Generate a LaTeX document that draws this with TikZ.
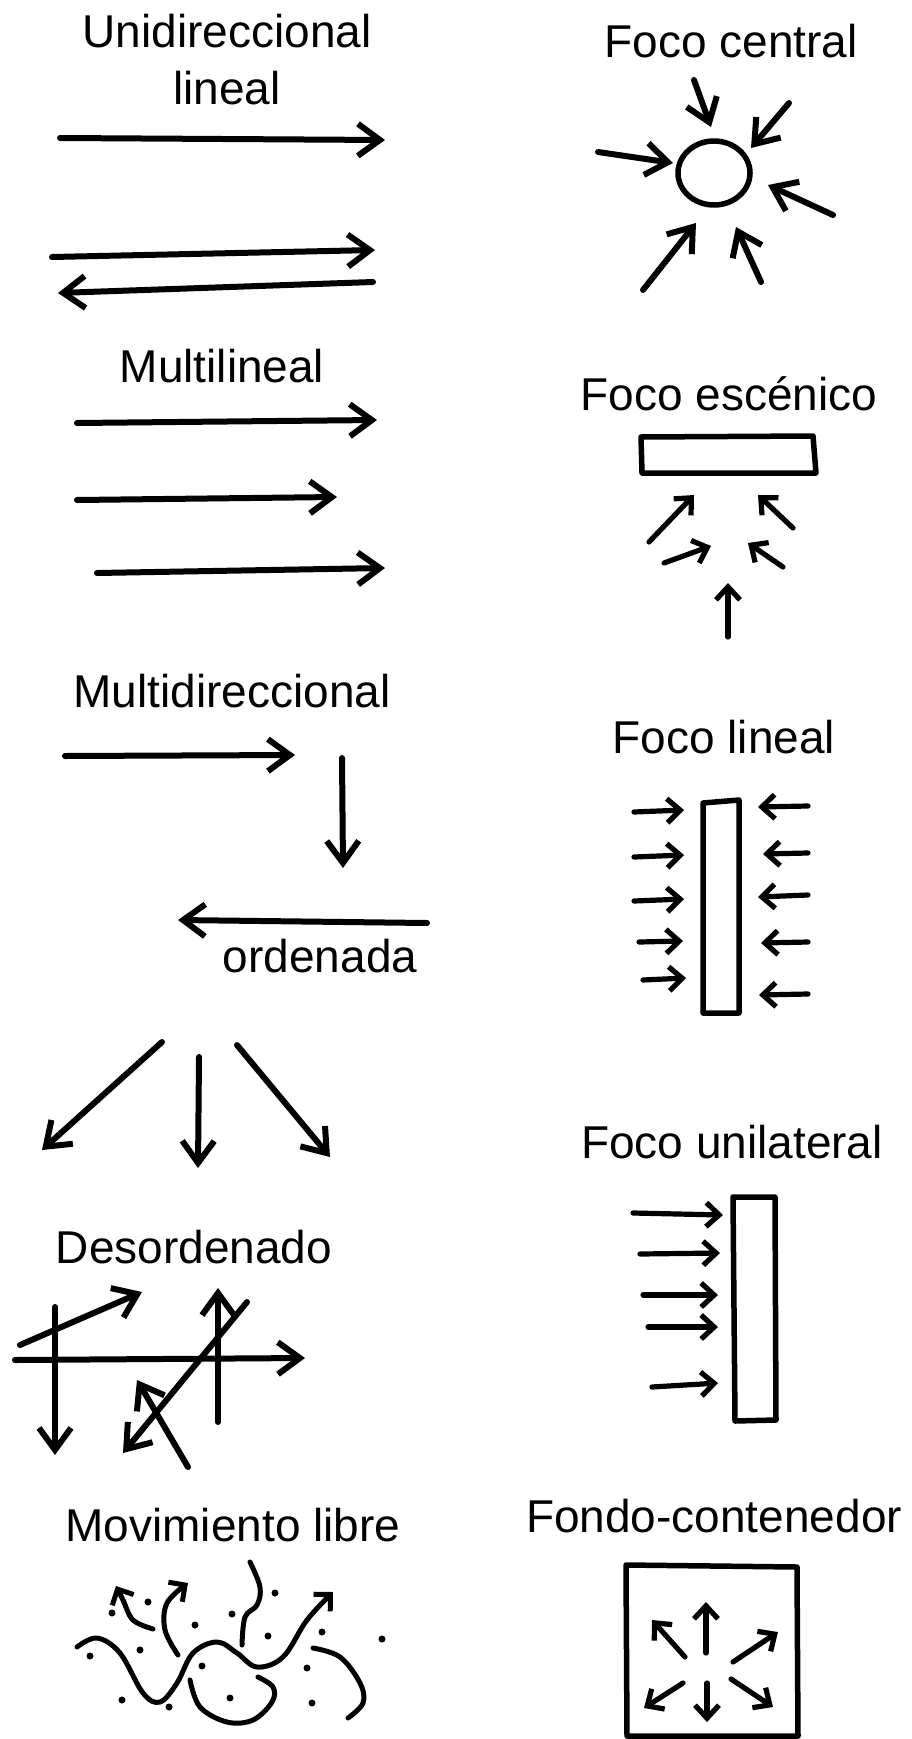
\documentclass[tikz,border=0pt]{standalone}
\usepackage{fontspec}
\setmainfont{Liberation Sans}
\usetikzlibrary{arrows.meta}
\begin{document}
\begin{tikzpicture}[x=1pt,y=-1pt,
  lbl/.style={anchor=base,inner sep=0pt,font=\fontsize{46}{52}\selectfont},
  stroke/.style={line width=6pt,line cap=round,line join=round},
  arr/.style={stroke,-{Straight Barb[length=22pt,width=32pt]}},
  sarr/.style={stroke,line width=5.2pt,-{Straight Barb[length=13pt,width=24pt]}},
  warr/.style={stroke,line width=5pt,-{Straight Barb[length=12pt,width=24pt]}},
  wave/.style={stroke,line width=5pt},
  box/.style={stroke,line width=5.5pt},
  dot/.style={fill=black}
]
\fill[white] (0,0) rectangle (912,1739);
\useasboundingbox (0,0) rectangle (912,1739);

% ---------- labels ----------
\node[lbl] (t1)  at (227,48)   {Unidireccional};
\node[lbl] (t1b) at (227,105)  {lineal};
\node[lbl] (t2)  at (731,58)   {Foco central};
\node[lbl] (t3)  at (222,382)  {Multilineal};
\node[lbl] (t4)  at (729,410)  {Foco escénico};
\node[lbl] (t5)  at (232,707)  {Multidireccional};
\node[lbl] (t6)  at (724,753)  {Foco lineal};
\node[lbl] (t7)  at (320,972)  {ordenada};
\node[lbl] (t8)  at (194,1263) {Desordenado};
\node[lbl] (t9)  at (732,1158) {Foco unilateral};
\node[lbl] (t10) at (233,1541) {Movimiento libre};
\node[lbl] (t11) at (714,1532) {Fondo-contenedor};

% ---------- Unidireccional lineal ----------
\draw[arr] (60,138) -- (385,140);
\draw[arr] (52,257) -- (375,250);
\draw[arr] (373,282) -- (58,293);

% ---------- Foco central ----------
\draw[box] (714,173) ellipse [x radius=36, y radius=32];
\draw[arr] (694,80) -- (711,127);
\draw[arr] (789,103) -- (751,148);
\draw[arr] (598,152) -- (673,163);
\draw[arr] (833,215) -- (768,185);
\draw[arr] (643,290) -- (696,223);
\draw[arr] (761,282) -- (736,227);

% ---------- Multilineal ----------
\draw[arr] (77,423) -- (377,420);
\draw[arr] (77,500) -- (337,497);
\draw[arr] (97,573) -- (385,568);

% ---------- Foco escenico ----------
\draw[box] (641,437) -- (813,436) -- (816,473) -- (642,473) -- cycle;
\draw[sarr] (649,542) -- (694,495);
\draw[sarr] (793,528) -- (758,495);
\draw[sarr] (664,563) -- (711,546);
\draw[sarr] (783,567) -- (748,543);
\draw[sarr] (728,637) -- (728,583);

% ---------- Multidireccional ordenada ----------
\draw[arr] (65,756) -- (295,755);
\draw[arr] (342,758) -- (343,868);
\draw[arr] (427,923) -- (178,920);

% ---------- Foco lineal ----------
\draw[box] (703,803) -- (739,800) -- (739,1013) -- (703,1013) -- cycle;
\draw[sarr] (634,812) -- (684,810);
\draw[sarr] (634,857) -- (684,855);
\draw[sarr] (634,901) -- (684,899);
\draw[sarr] (639,942) -- (683,941);
\draw[sarr] (643,980) -- (686,978);
\draw[sarr] (808,806) -- (758,807);
\draw[sarr] (808,853) -- (763,854);
\draw[sarr] (808,895) -- (758,897);
\draw[sarr] (808,942) -- (761,943);
\draw[sarr] (808,994) -- (759,995);

% ---------- three spreading arrows ----------
\draw[arr] (162,1042) -- (42,1150);
\draw[arr] (199,1057) -- (198,1168);
\draw[arr] (237,1045) -- (330,1157);

% ---------- Desordenado ----------
\draw[arr] (20,1345) -- (142,1292);
\draw[arr] (55,1307) -- (55,1455);
\draw[arr] (15,1360) -- (305,1358);
\draw[arr] (218,1422) -- (218,1288);
\draw[arr] (247,1302) -- (123,1453);
\draw[arr] (188,1467) -- (137,1380);

% ---------- Foco unilateral ----------
\draw[box] (733,1197) -- (775,1197) -- (776,1420) -- (735,1421) -- cycle;
\draw[sarr] (633,1213) -- (723,1215);
\draw[sarr] (640,1254) -- (720,1253);
\draw[sarr] (643,1295) -- (718,1295);
\draw[sarr] (648,1327) -- (718,1327);
\draw[sarr] (652,1387) -- (718,1383);

% ---------- Movimiento libre ----------
\draw[warr] plot[smooth,tension=0.6] coordinates {(77,1647) (97,1638) (120,1653) (143,1693) (160,1702) (177,1683) (193,1653) (217,1642) (237,1653) (257,1667) (283,1657) (307,1620) (333,1592)};
\draw[warr] plot[smooth,tension=0.6] coordinates {(153,1629) (133,1620) (123,1600) (116,1586)};
\draw[warr] plot[smooth,tension=0.6] coordinates {(178,1655) (165,1630) (167,1603) (188,1583)};
\draw[wave] plot[smooth,tension=0.6] coordinates {(250,1562) (260,1587) (257,1605) (245,1617) (242,1645)};
\draw[wave] plot[smooth,tension=0.6] coordinates {(190,1680) (200,1707) (227,1722) (253,1720) (272,1702) (273,1687) (258,1677)};
\draw[wave] plot[smooth,tension=0.6] coordinates {(313,1648) (340,1657) (360,1683) (363,1703) (348,1718)};
\foreach \p in {(148,1602),(112,1613),(195,1625),(232,1614),(275,1593),(268,1636),(322,1632),(382,1639),(140,1650),(90,1656),(202,1666),(307,1668),(122,1700),(169,1707),(230,1698),(312,1703)}
  \fill[dot] \p circle [radius=3.5];

% ---------- Fondo-contenedor ----------
\draw[box] (626,1565) -- (797,1567) -- (798,1736) -- (627,1736) -- cycle;
\draw[sarr] (706,1653) -- (706,1602);
\draw[sarr] (685,1657) -- (652,1620);
\draw[sarr] (733,1662) -- (778,1632);
\draw[sarr] (683,1683) -- (644,1708);
\draw[sarr] (707,1683) -- (707,1722);
\draw[sarr] (731,1679) -- (773,1707);
\end{tikzpicture}
\end{document}
